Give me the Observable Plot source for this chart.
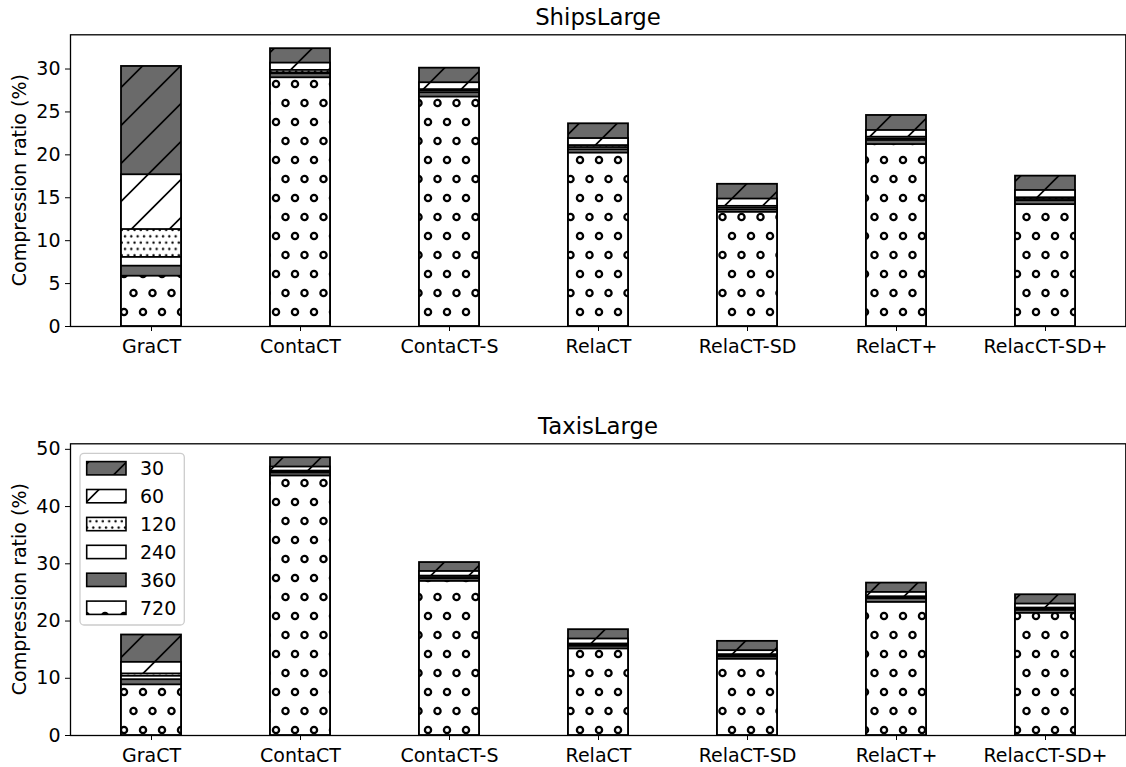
<!DOCTYPE html>
<html><head><meta charset="utf-8">
<script src="https://cdn.jsdelivr.net/npm/d3@7"></script>
<script src="https://cdn.jsdelivr.net/npm/@observablehq/plot@0.6"></script>
<style>
body{margin:0;background:#fff;width:1126px;height:767px;overflow:hidden;font-family:"DejaVu Sans",sans-serif}
svg{display:block}
</style></head><body>
<svg id="defs" width="0" height="0" style="position:absolute;left:0;top:0"></svg>
<div id="chart"></div>
<script>
// ---- data ----
const methods = ["GraCT", "ContaCT", "ContaCT-S", "RelaCT", "RelaCT-SD", "RelaCT+", "RelacCT-SD+"];
const intervals = ["30", "60", "120", "240", "360", "720"];
const yLabel = "Compression ratio (%)";

const shipsTitle = "ShipsLarge";
const ships30  = [30.3, 32.37, 30.1, 23.62, 16.57, 24.59, 17.52];
const ships60  = [17.68, 30.69, 28.4, 21.9, 14.85, 22.84, 15.85];
const ships120 = [11.3, 29.84, 27.6, 21.08, 14.0, 22.06, 15.0];
const ships240 = [8.05, 29.56, 27.43, 20.85, 13.8, 21.87, 14.8];
const ships360 = [7.03, 29.45, 27.24, 20.6, 13.6, 21.68, 14.65];
const ships720 = [5.86, 28.98, 26.73, 20.2, 13.3, 21.2, 14.2];
const shipsTicks = [0, 5, 10, 15, 20, 25, 30];

const taxisTitle = "TaxisLarge";
const taxis30  = [17.56, 48.54, 30.22, 18.49, 16.45, 26.63, 24.59];
const taxis60  = [12.78, 46.91, 28.66, 16.86, 14.82, 25.0, 22.97];
const taxis120 = [10.76, 46.2, 27.85, 15.99, 14.13, 24.24, 22.27];
const taxis240 = [10.35, 46.04, 27.6, 15.82, 13.9, 24.07, 22.03];
const taxis360 = [9.75, 45.87, 27.38, 15.58, 13.72, 23.89, 21.86];
const taxis720 = [8.85, 45.34, 26.92, 15.12, 13.31, 23.25, 21.34];
const taxisTicks = [0, 10, 20, 30, 40, 50];

// ---- patterns ----
const GRAY = "#6a6a6a";
const defs = d3.select("#defs").append("defs");
function addPatterns(key, offsetY) {
  const tf = `translate(0,${-offsetY})`;
  const mk = (id, w, h) => defs.append("pattern").attr("id", id + "-" + key)
    .attr("patternUnits", "userSpaceOnUse").attr("x", 0).attr("y", 0)
    .attr("width", w).attr("height", h).attr("patternTransform", tf);
  const slash = (id, bg) => {
    const p = mk(id, 38, 38);
    p.append("rect").attr("width", 38).attr("height", 38).attr("fill", bg);
    const c = 18.5;
    let d = "";
    for (const k of [-1, 0, 1, 2]) d += `M-5,${c + 38 * k + 5}L43,${c + 38 * k - 43}`;
    p.append("path").attr("d", d).attr("stroke", "black").attr("stroke-width", 1.7).attr("fill", "none");
  };
  slash("p30", GRAY);
  slash("p60", "white");
  const pd = mk("p120", 19 / 3, 38 / 3);
  pd.append("rect").attr("width", 19 / 3).attr("height", 38 / 3).attr("fill", "white");
  for (const [x, y] of [[1.5, 2.0], [1.5 + 19 / 6, 2.0 + 19 / 3]])
    pd.append("circle").attr("cx", x).attr("cy", y).attr("r", 1.2).attr("fill", "black");
  const pc = mk("p720", 19, 38);
  pc.append("rect").attr("width", 19).attr("height", 38).attr("fill", "white");
  for (const [x, y] of [[10, 8], [0.5, 27], [19.5, 27]])
    pc.append("circle").attr("cx", x).attr("cy", y).attr("r", 3.1).attr("fill", "none")
      .attr("stroke", "black").attr("stroke-width", 2.3);
}
function fillFor(iv, key) {
  if (iv === "240") return "white";
  if (iv === "360") return GRAY;
  return `url(#p${iv}-${key})`;
}

// ---- chart ----
function chart({key, offsetY, title, series, ticks, height, marginTop, marginBottom, legend}) {
  addPatterns(key, offsetY);
  const ymax = d3.max(series.flat()) * 1.05;
  const marks = intervals.map((iv, i) =>
    Plot.barY(methods.map((m, j) => ({method: m, value: series[i][j]})), {
      x: "method", y1: 0, y2: "value",
      fill: fillFor(iv, key), stroke: "black", strokeWidth: 1.8, inset: 0
    })
  );
  marks.push(Plot.frame({stroke: "black", strokeWidth: 1.3}));
  const svg = Plot.plot({
    width: 1126, height,
    marginLeft: 70, marginRight: 0.7, marginTop, marginBottom,
    style: {fontFamily: "DejaVu Sans", fontSize: "19px", color: "black", background: "white", overflow: "visible"},
    x: {domain: methods, paddingInner: 0.6, paddingOuter: 0.32, align: 0.5, label: null, tickSize: 5, tickPadding: 7.5},
    y: {domain: [0, ymax], ticks, label: null, tickSize: 5, tickPadding: 5},
    marks
  });
  const s = d3.select(svg);
  const frameBottom = height - marginBottom;
  s.append("text").attr("x", (70 + 1126) / 2).attr("y", marginTop - 9)
    .attr("text-anchor", "middle").attr("font-size", "22.8px").attr("fill", "black").text(title);
  s.append("text").attr("transform", `translate(26,${(marginTop + frameBottom) / 2}) rotate(-90)`)
    .attr("text-anchor", "middle").attr("font-size", "19px").attr("fill", "black").text(yLabel);
  if (legend) {
    const g = s.append("g").attr("text-anchor", "start");
    g.append("rect").attr("x", 80).attr("y", marginTop + 10).attr("width", 104.3).attr("height", 171.7)
      .attr("rx", 4).attr("fill", "white").attr("fill-opacity", 0.8).attr("stroke", "#cccccc").attr("stroke-width", 1.3);
    intervals.forEach((iv, i) => {
      const cy = marginTop + 25 + i * 27.9;
      g.append("rect").attr("x", 86.7).attr("y", cy - 6.7).attr("width", 39.3).attr("height", 13.3)
        .attr("fill", fillFor(iv, key)).attr("stroke", "black").attr("stroke-width", 1.6);
      g.append("text").attr("x", 140).attr("y", cy).attr("dy", "0.36em").attr("font-size", "19px")
        .attr("text-anchor", "start").attr("fill", "black").text(iv);
    });
  }
  return svg;
}

const root = document.getElementById("chart");
root.appendChild(chart({
  key: "top", offsetY: 0, title: shipsTitle,
  series: [ships30, ships60, ships120, ships240, ships360, ships720],
  ticks: shipsTicks, height: 383, marginTop: 34.3, marginBottom: 57, legend: false
}));
root.appendChild(chart({
  key: "bot", offsetY: 383, title: taxisTitle,
  series: [taxis30, taxis60, taxis120, taxis240, taxis360, taxis720],
  ticks: taxisTicks, height: 384, marginTop: 60.3, marginBottom: 32, legend: true
}));
</script>
</body></html>
